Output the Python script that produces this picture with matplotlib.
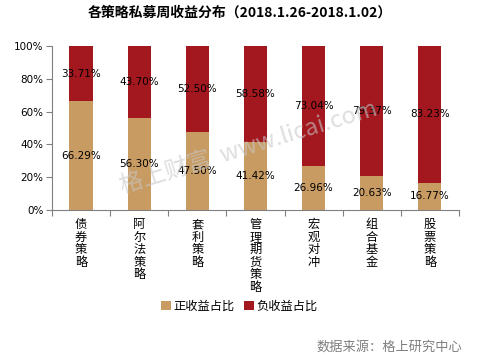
import matplotlib.pyplot as plt
import numpy as np

plt.rcParams['font.family'] = ['Noto Sans CJK SC', 'DejaVu Sans']

categories = ["债券策略", "阿尔法策略", "套利策略", "管理期货策略", "宏观对冲", "组合基金", "股票策略"]
positive = [66.29, 56.30, 47.50, 41.42, 26.96, 20.63, 16.77]
negative = [33.71, 43.70, 52.50, 58.58, 73.04, 79.37, 83.23]

tan = "#C89B62"
red = "#A3171E"

fig = plt.figure(figsize=(4.79, 3.6), dpi=100)
ax = fig.add_axes([0.1086, 0.4167, 0.8494, 0.4553])

x = np.arange(len(categories))
b1 = ax.bar(x, positive, width=0.4, color=tan, label="正收益占比", zorder=2)
b2 = ax.bar(x, negative, width=0.4, bottom=positive, color=red, label="负收益占比", zorder=2)

for i in range(len(categories)):
    ax.text(x[i], positive[i] / 2, "%.2f%%" % positive[i], ha="center", va="center",
            fontsize=7.5, family="DejaVu Sans", zorder=4)
    ax.text(x[i], positive[i] + negative[i] / 2, "%.2f%%" % negative[i], ha="center", va="center",
            fontsize=7.5, family="DejaVu Sans", zorder=4)

ax.set_xlim(-0.5, len(categories) - 0.5)
ax.set_ylim(0, 100)
ax.set_yticks(np.arange(0, 101, 20))
ax.set_yticklabels(["%d%%" % v for v in range(0, 101, 20)], fontsize=7.5, family="DejaVu Sans")

# category ticks between bars
ax.set_xticks(np.arange(-0.5, len(categories), 1))
ax.set_xticklabels([])
ax.tick_params(axis="x", length=4, color="#808080", direction="out")
ax.tick_params(axis="y", length=4, color="#808080", direction="out", pad=2)
for i, c in enumerate(categories):
    ax.text(x[i], -5, "\n".join(c), ha="center", va="top", fontsize=8.8, linespacing=0.95)

for s in ["top", "right"]:
    ax.spines[s].set_visible(False)
ax.spines["left"].set_color("#808080")
ax.spines["bottom"].set_color("#808080")

fig.text(0.5, 0.965, "各策略私募周收益分布（2018.1.26-2018.1.02）", ha="center", va="center",
         fontsize=10, fontweight="bold")

# watermark
fig.text(0.52, 0.59, "格上财富  www.licai.com", ha="center", va="center", rotation=17,
         fontsize=17, color="#C8C8C8", alpha=0.6, zorder=5)

fig.legend(handles=[b1, b2], loc="center", bbox_to_anchor=(0.5, 0.15), ncol=2, frameon=False,
           fontsize=8.8, handlelength=0.8, handleheight=0.8, handletextpad=0.2, columnspacing=0.8)

fig.text(0.965, 0.035, "数据来源：格上研究中心", ha="right", va="center", fontsize=9.5, color="#7F7F7F")

fig.savefig("out.png", dpi=100)
